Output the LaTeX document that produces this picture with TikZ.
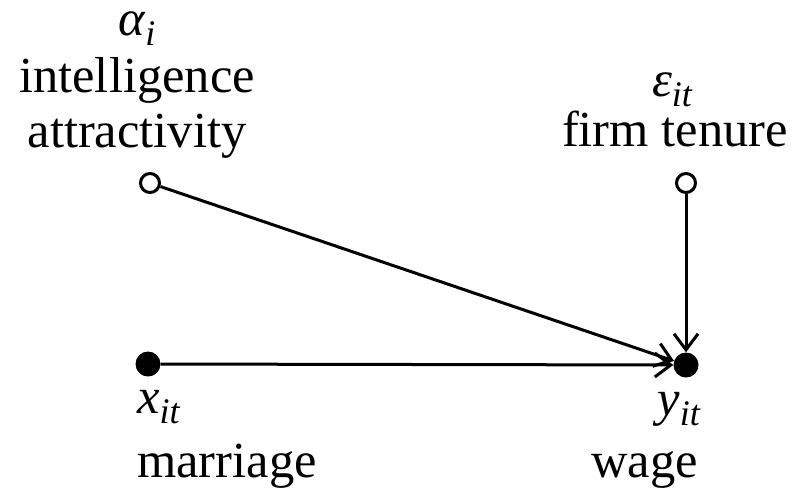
\documentclass[tikz,border=0pt]{standalone}
\usepackage{fontspec}
\setmainfont{Liberation Serif}
\usetikzlibrary{arrows.meta}
\newcommand{\symsub}[2]{{\itshape #1}\raisebox{-0.2em}[0pt][0pt]{\fontsize{36}{36}\selectfont\itshape #2}}
\begin{document}
\begin{tikzpicture}[x=1pt,y=-1pt,
  lab/.style={font=\fontsize{50.5}{54}\selectfont, inner sep=0pt, anchor=base},
  opennode/.style={circle, draw, line width=3pt, fill=white, minimum size=19pt, inner sep=0pt},
  fillnode/.style={circle, fill=black, minimum size=25pt, inner sep=0pt},
  conn/.style={line width=3pt, -{Straight Barb[length=16pt,width=24pt]}}]
\useasboundingbox (0,0) rectangle (794,488);
% points
\node[opennode] (a) at (150,183) {};
\node[opennode] (e) at (686,183) {};
\node[fillnode] (x) at (148,364) {};
\node[fillnode] (y) at (686,365) {};
% labels
\node[lab] (aSym) at (137,35) {\symsub{α}{i}};
\node[lab] (aL1) at (137,92) {intelligence};
\node[lab] (aL2) at (137,147) {attractivity};
\node[lab] (eSym) at (672,96) {\symsub{ε}{it}};
\node[lab] (eL1) at (675,146) {firm tenure};
\node[lab, anchor=base west] (xSym) at (137,413) {\symsub{x}{it}};
\node[lab, anchor=base west] (xL1) at (137,477) {marriage};
\node[lab, anchor=base east] (ySym) at (700,415) {\symsub{y}{it}};
\node[lab, anchor=base east] (yL1) at (698,477) {wage};
% connectors
\draw[conn] (a) -- (y);
\draw[conn] (x) -- (y);
\draw[conn] (e) -- (y);
\end{tikzpicture}
\end{document}
